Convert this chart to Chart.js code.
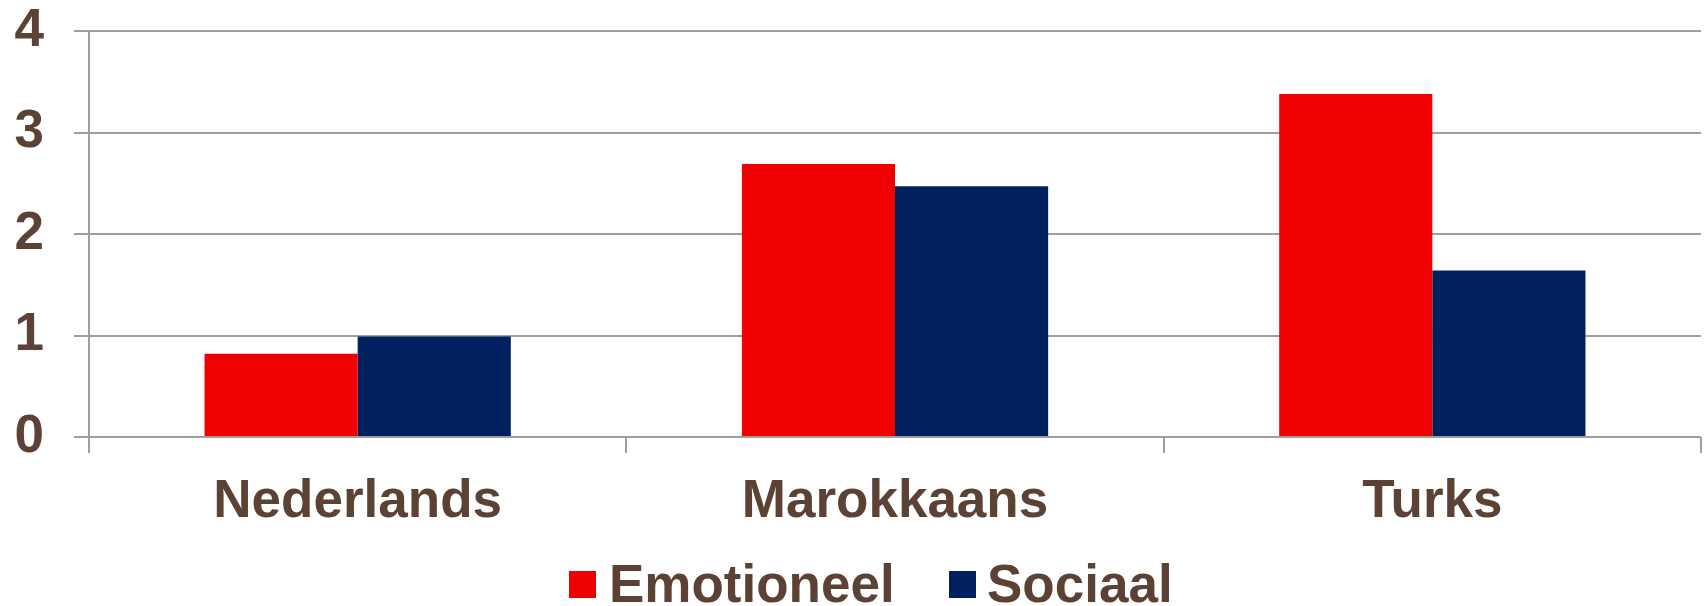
<!DOCTYPE html>
<html>
<head>
<meta charset="utf-8">
<script src="https://cdn.jsdelivr.net/npm/chart.js@4.4.1/dist/chart.umd.min.js"></script>
<style>
  html, body { margin: 0; padding: 0; background: #ffffff; }
  #wrap { position: relative; width: 1708px; height: 606px; }
  canvas { position: absolute; left: 0; top: 0; }
  .lg-box { position: absolute; top: 571px; width: 27px; height: 27px; }
  .lg-txt { position: absolute; top: 557px; font: bold 53px "Liberation Sans", Arial, sans-serif; line-height: 53px;
            color: #5B4235; white-space: nowrap; }
</style>
</head>
<body>
<div id="wrap">
  <canvas id="c" width="1708" height="606"></canvas>
  <div id="legend"></div>
</div>
<script>
const categories = ["Nederlands", "Marokkaans", "Turks"];
const seriesNames = ["Emotioneel", "Sociaal"];
const emotioneel = [0.82, 2.69, 3.38];
const sociaal = [0.99, 2.47, 1.64];
const yTicks = [0, 1, 2, 3, 4];

const colors = ["#F00000", "#002060"];
const textColor = "#5B4235";
const gridColor = "#A39D99";

// HTML legend
const legendPos = [{box: 569, txt: 609}, {box: 949, txt: 987}];
const lg = document.getElementById('legend');
seriesNames.forEach((n, i) => {
  const b = document.createElement('div');
  b.className = 'lg-box'; b.style.left = legendPos[i].box + 'px'; b.style.background = colors[i];
  const t = document.createElement('div');
  t.className = 'lg-txt'; t.style.left = legendPos[i].txt + 'px'; t.textContent = n;
  lg.appendChild(b); lg.appendChild(t);
});

new Chart(document.getElementById('c'), {
  type: 'bar',
  data: {
    labels: categories,
    datasets: [
      { label: seriesNames[0], data: emotioneel, backgroundColor: colors[0] },
      { label: seriesNames[1], data: sociaal, backgroundColor: colors[1] }
    ]
  },
  options: {
    responsive: false,
    animation: false,
    devicePixelRatio: 1,
    layout: { padding: { left: 0, top: 31, right: 7, bottom: 0 } },
    datasets: { bar: { categoryPercentage: 0.57, barPercentage: 1.0 } },
    plugins: { legend: { display: false }, tooltip: { enabled: false } },
    scales: {
      x: {
        offset: true,
        grid: { display: true, offset: true, drawOnChartArea: false, drawTicks: true, tickLength: 16, color: gridColor, lineWidth: 2 },
        border: { display: false },
        ticks: { color: textColor, padding: 18, font: { family: '"Liberation Sans", Arial, sans-serif', size: 53, weight: 'bold' } },
        afterFit: (s) => { s.height = 169; s.paddingLeft = 0; s.paddingRight = 0; }
      },
      y: {
        min: 0, max: 4,
        afterBuildTicks: (s) => { s.ticks = yTicks.map(v => ({ value: v })); },
        grid: { color: gridColor, lineWidth: 2, tickLength: 15 },
        border: { display: true, color: gridColor, width: 2 },
        ticks: { color: textColor, padding: 30, font: { family: '"Liberation Sans", Arial, sans-serif', size: 53, weight: 'bold' } },
        afterFit: (s) => { s.width = 89; s.paddingTop = 0; s.paddingBottom = 0; }
      }
    }
  }
});
</script>
</body>
</html>
